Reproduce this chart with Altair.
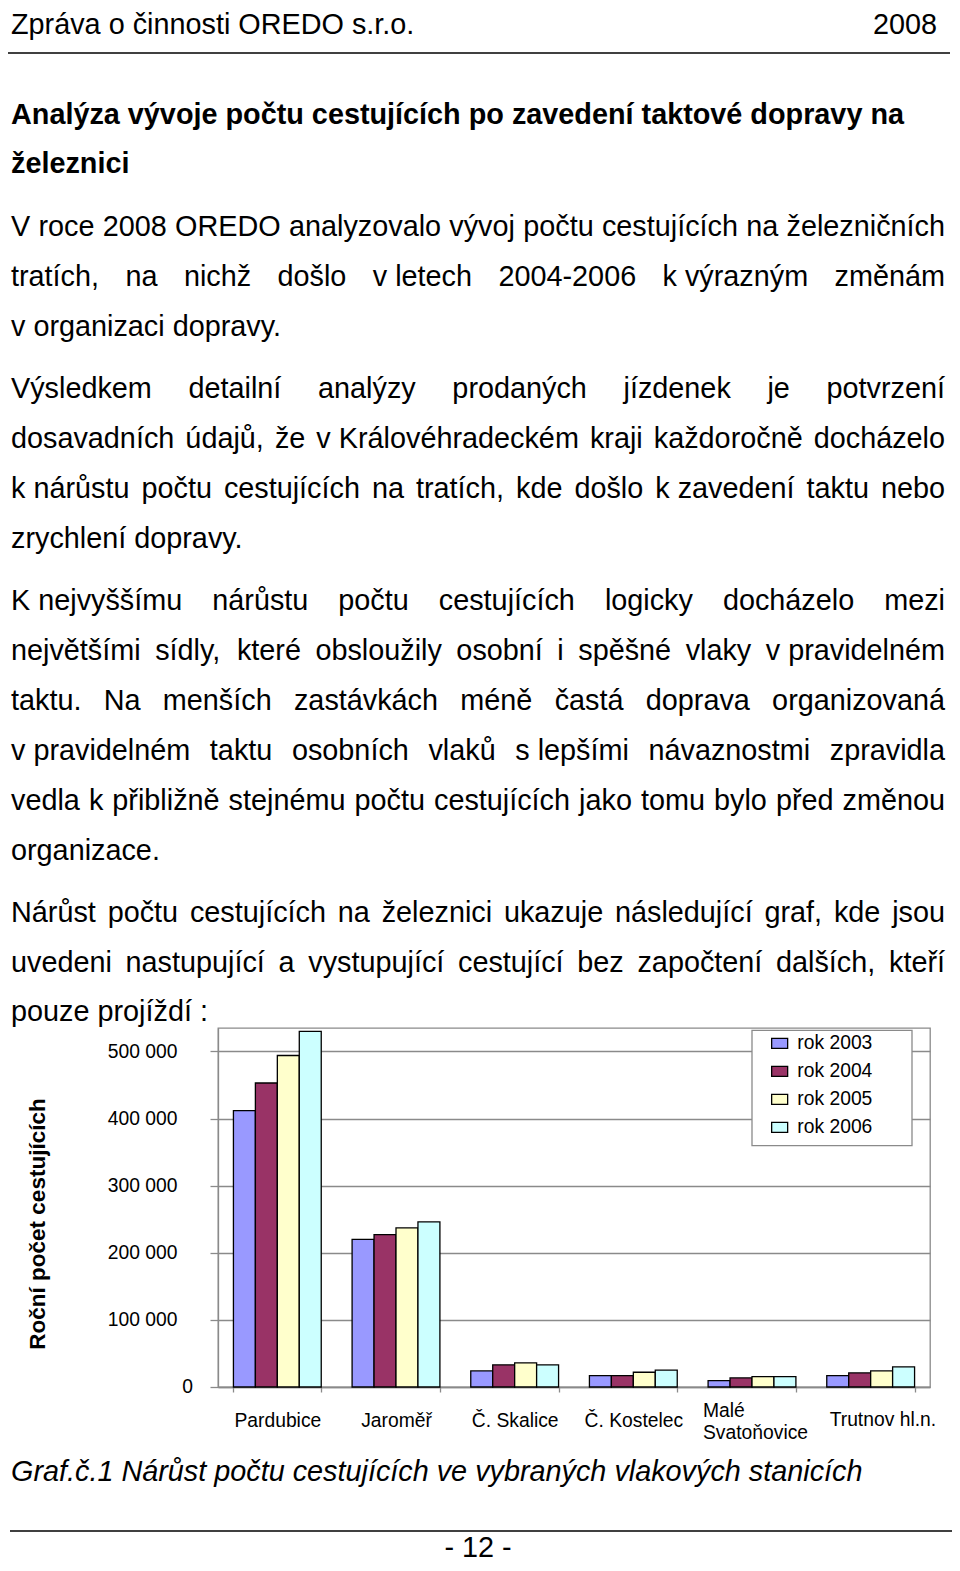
import altair as alt
import pandas as pd

# ---------------- chart data ----------------
stations = ["Pardubice", "Jaroměř", "Č. Skalice", "Č. Kostelec", "Malé Svatoňovice", "Trutnov hl.n."]
years = ["rok 2003", "rok 2004", "rok 2005", "rok 2006"]
v2003 = [412000, 220000, 24000, 17000, 9500, 17000]
v2004 = [453000, 227000, 33000, 17000, 13500, 21000]
v2005 = [494000, 237000, 36000, 22000, 15500, 24000]
v2006 = [530000, 246000, 33000, 25000, 15500, 30000]
y_ticks = [0, 100000, 200000, 300000, 400000, 500000]
colors = ["#9999FF", "#993366", "#FFFFCC", "#CCFFFF"]
y_title = "Roční počet cestujících"
two_line_station = "Malé Svatoňovice"
two_line_parts = ["Malé", "Svatoňovice"]
last_station = "Trutnov hl.n."

# ---------------- page text ----------------
NB = "\u00a0"
header_left = "Zpráva o činnosti OREDO s.r.o."
header_right = "2008"
title_lines = ["Analýza vývoje počtu cestujících po zavedení taktové dopravy na", "železnici"]
paragraphs = [
    ["V roce 2008 OREDO analyzovalo vývoj počtu cestujících na železničních",
     f"tratích, na nichž došlo v{NB}letech 2004-2006 k{NB}výrazným změnám",
     f"v{NB}organizaci dopravy."],
    ["Výsledkem detailní analýzy prodaných jízdenek je potvrzení",
     f"dosavadních údajů, že v{NB}Královéhradeckém kraji každoročně docházelo",
     f"k{NB}nárůstu počtu cestujících na tratích, kde došlo k{NB}zavedení taktu nebo",
     "zrychlení dopravy."],
    [f"K{NB}nejvyššímu nárůstu počtu cestujících logicky docházelo mezi",
     f"největšími sídly, které obsloužily osobní i spěšné vlaky v{NB}pravidelném",
     "taktu. Na menších zastávkách méně častá doprava organizovaná",
     f"v{NB}pravidelném taktu osobních vlaků s{NB}lepšími návaznostmi zpravidla",
     "vedla k přibližně stejnému počtu cestujících jako tomu bylo před změnou",
     "organizace."],
    ["Nárůst počtu cestujících na železnici ukazuje následující graf, kde jsou",
     "uvedeni nastupující a vystupující cestující bez započtení dalších, kteří",
     "pouze projíždí :"],
]
caption = "Graf.č.1 Nárůst počtu cestujících ve vybraných vlakových stanicích"
page_no = "- 12 -"

# ---------------- layout (page pixels) ----------------
FONT = "Liberation Sans"
GREY = "#8a8a8a"
PX0, PY0 = 218, 1028          # plot-area origin on the page
PW, PH = 712, 359             # plot-area size
TOTAL_W, TOTAL_H = 944, 1555  # whole svg
FS = 28.8                     # body font size
CFS = 19.3                    # chart font size
para_baselines = [[236, 286, 336], [398, 448, 498, 548],
                  [610, 660, 710, 760, 810, 860], [922, 972, 1021]]

# Arial / Liberation Sans advance widths (1/1000 em) for justification
AW = {" ": 278, NB: 278, ",": 278, ".": 278, ":": 278, "-": 333}
for c in "0123456789":
    AW[c] = 556
AW.update(dict(a=556, b=556, c=500, d=556, e=556, f=278, g=556, h=556, i=222, j=222,
               k=500, l=222, m=833, n=556, o=556, p=556, q=556, r=333, s=500, t=278,
               u=556, v=500, w=722, x=500, y=500, z=500))
AW.update({"á": 556, "é": 556, "ě": 556, "í": 278, "ó": 556, "ú": 556, "ů": 556, "ý": 500,
           "č": 500, "ň": 556, "ř": 333, "š": 500, "ž": 500,
           "K": 667, "V": 667, "O": 778, "R": 722, "E": 667, "D": 722, "N": 722})


def tw(s):
    return sum(AW.get(ch, 556) for ch in s) * FS / 1000.0


body_rows = []
for lines, bases in zip(paragraphs, para_baselines):
    for i, (line, base) in enumerate(zip(lines, bases)):
        if i == len(lines) - 1:
            body_rows.append({"px": 11 - PX0, "py": base - PY0, "t": line})
            continue
        toks = line.split(" ")
        widths = [tw(t) for t in toks]
        gap = (945 - 11 - sum(widths)) / (len(toks) - 1)
        x = 11.0
        for t, w in zip(toks, widths):
            body_rows.append({"px": x - PX0, "py": base - PY0, "t": t})
            x += w + gap
body_rows.append({"px": 11 - PX0, "py": 34 - PY0, "t": header_left})
body_df = pd.DataFrame(body_rows)

bold_df = pd.DataFrame({"px": [11 - PX0, 11 - PX0], "py": [124 - PY0, 173 - PY0], "t": title_lines})
right_df = pd.DataFrame({"px": [937 - PX0], "py": [34 - PY0], "t": [header_right]})
center_df = pd.DataFrame({"px": [478 - PX0], "py": [1557 - PY0], "t": [page_no]})
italic_df = pd.DataFrame({"px": [11 - PX0], "py": [1481 - PY0], "t": [caption]})
ytitle_df = pd.DataFrame({"px": [45 - PX0], "py": [1224 - PY0], "t": [y_title]})
rules_df = pd.DataFrame({"px": [3 - PX0, 10 - PX0], "px2": [950 - PX0, 952 - PX0],
                         "py": [53 - PY0, 1531 - PY0]})
xlab_df = pd.DataFrame({"station": [two_line_station] * 2, "t": two_line_parts,
                        "py": [1411 - PY0, 1433 - PY0]})
xlab_last_df = pd.DataFrame({"station": [last_station], "t": [last_station], "py": [1420 - PY0]})

# ---------------- chart ----------------
rows = []
for yr, vals in zip(years, [v2003, v2004, v2005, v2006]):
    for st, v in zip(stations, vals):
        rows.append({"station": st, "year": yr, "value": v})
df = pd.DataFrame(rows)

x_scale = alt.Scale(paddingInner=0.26, paddingOuter=0.13)
x_axis = alt.Axis(labelAngle=0, tickBand="extent", tickSize=5, labelPadding=28,
                  labelBaseline="middle", labelFontSize=CFS, grid=False,
                  labelExpr=f"datum.label == '{two_line_station}' || datum.label == '{last_station}' ? '' : datum.label",
                  domainColor=GREY, tickColor=GREY, domainWidth=1.3, tickWidth=1.3, labelLimit=300)
y_scale = alt.Scale(domain=[0, 535000], nice=False, zero=True)
y_axis = alt.Axis(values=y_ticks, tickSize=8, labelPadding=33, labelFontSize=CFS,
                  labelExpr="datum.value == 0 ? '' : format(datum.value / 1000, 'd') + ' 000'",
                  gridColor=GREY, domainColor=GREY, tickColor=GREY,
                  gridWidth=1.3, domainWidth=1.3, tickWidth=1.3)

bars = alt.Chart(df).mark_bar(stroke="black", strokeWidth=1.3).encode(
    x=alt.X("station:N", sort=stations, title=None, scale=x_scale, axis=x_axis),
    xOffset=alt.XOffset("year:N", sort=years, scale=alt.Scale(paddingInner=0, paddingOuter=0)),
    y=alt.Y("value:Q", title=None, scale=y_scale, axis=y_axis),
    color=alt.Color("year:N", sort=years, scale=alt.Scale(domain=years, range=colors),
                    legend=alt.Legend(title=None, orient="none", legendX=552, legendY=5.8,
                                      symbolType="M-1,-0.625H1V0.625H-1Z", symbolSize=256,
                                      symbolStrokeColor="black", symbolStrokeWidth=1.3,
                                      labelFont=FONT, labelFontSize=CFS, labelColor="black",
                                      rowPadding=8.0, labelOffset=8, padding=0, symbolOffset=0)),
)

zero_label = alt.Chart(pd.DataFrame({"value": [0]})).mark_text(
    align="right", baseline="middle", font=FONT, fontSize=CFS, color="black"
).encode(y=alt.Y("value:Q", title=None, scale=y_scale, axis=y_axis),
         x=alt.value(193 - PX0), text=alt.value("0"))


def station_label(data, dx):
    return alt.Chart(data).mark_text(
        align="left", baseline="middle", font=FONT, fontSize=CFS, color="black", dx=dx
    ).encode(x=alt.X("station:N", sort=stations, title=None, scale=x_scale, axis=x_axis),
             y=alt.Y("py:Q", scale=None, axis=None), text="t:N")


two_line_label = station_label(xlab_df, -49)
last_label = station_label(xlab_last_df, -41)

legend_box = alt.Chart(pd.DataFrame({"k": [0]})).mark_rect(
    fill="white", stroke=GREY, strokeWidth=1.3
).encode(x=alt.value(752 - PX0), x2=alt.value(912 - PX0), y=alt.value(1030.3 - PY0),
         y2=alt.value(1145.7 - PY0))


def text_layer(data, **kw):
    return alt.Chart(data).mark_text(font=FONT, color="black", **kw).encode(
        x=alt.X("px:Q", scale=None, axis=None),
        y=alt.Y("py:Q", scale=None, axis=None),
        text="t:N")


body = text_layer(body_df, align="left", baseline="alphabetic", fontSize=FS)
bold = text_layer(bold_df, align="left", baseline="alphabetic", fontSize=FS, fontWeight="bold")
right = text_layer(right_df, align="right", baseline="alphabetic", fontSize=FS)
center = text_layer(center_df, align="center", baseline="alphabetic", fontSize=FS)
italic = text_layer(italic_df, align="left", baseline="alphabetic", fontSize=FS, fontStyle="italic")
ytitle = text_layer(ytitle_df, align="center", baseline="alphabetic", fontSize=22.5,
                    fontWeight="bold", angle=270)

rules = alt.Chart(rules_df).mark_rule(color="black", strokeWidth=1.5).encode(
    x=alt.X("px:Q", scale=None, axis=None), x2="px2:Q",
    y=alt.Y("py:Q", scale=None, axis=None))

chart = alt.layer(legend_box, bars, zero_label, two_line_label, last_label, body, bold, right,
                  center, italic, ytitle, rules).properties(
    width=PW, height=PH,
    padding={"left": PX0 - 8, "top": PY0 - 8,
             "right": TOTAL_W - (PX0 - 8) - PW, "bottom": TOTAL_H - (PY0 - 8) - PH},
    autosize=alt.AutoSizeParams(type="none"),
).configure(background="white").configure_view(
    stroke=GREY, strokeWidth=1.3
).configure_axis(labelFont=FONT, labelColor="black")

chart.save("out.html", embed_options={"renderer": "svg", "actions": False})
